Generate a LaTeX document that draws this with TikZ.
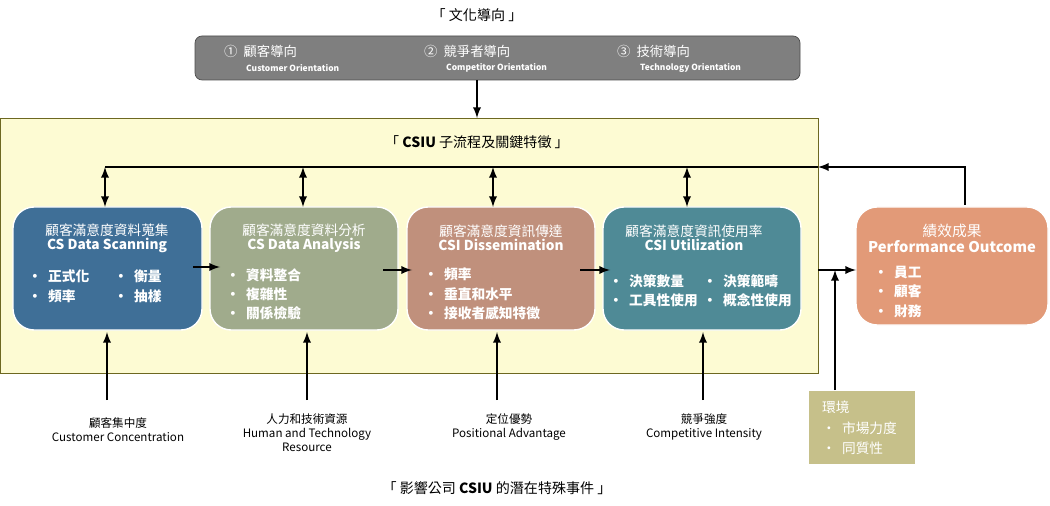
\documentclass[tikz,border=0pt]{standalone}
\usepackage{fontspec}
\setmainfont{Noto Sans CJK TC}
\usepackage{tikz}
\usetikzlibrary{positioning}
\definecolor{culturegray}{HTML}{7F7F7F}
\definecolor{csiuyellow}{HTML}{FDFBD3}
\definecolor{scanblue}{HTML}{3F6F97}
\definecolor{analysisgreen}{HTML}{A0AB8C}
\definecolor{dissembrown}{HTML}{C0907C}
\definecolor{utilteal}{HTML}{4F8A96}
\definecolor{perforange}{HTML}{E29A78}
\definecolor{envolive}{HTML}{C6C08A}
\tikzset{
  stage/.style={draw=white, thick, rounded corners=12pt, anchor=north west},
  head/.style={text=white, font=\fontsize{7.8}{9}\selectfont, align=center},
  item/.style={text=white, font=\bfseries\fontsize{7.8}{11}\selectfont, align=left, anchor=north west},
  lab/.style={font=\fontsize{6.6}{8}\selectfont, align=center},
  flow/.style={line width=1.1pt, -latex},
  both/.style={line width=1.1pt, latex-latex},
}
\begin{document}
\begin{tikzpicture}[x=0.02cm, y=-0.02cm]
        \useasboundingbox (0,0) rectangle (1050,506);
        % culture
        \node[lab, font=\fontsize{8}{9}\selectfont] (culttitle) at (477,15) {「 文化導向 」};
        \draw [rounded corners=4pt, fill=culturegray, draw=gray!60!black] (195,36) rectangle (800,80);
        \node[text=white, font=\fontsize{7.6}{9}\selectfont, anchor=west] (c1) at (218,51) {①\ \ 顧客導向};
        \node[text=white, font=\bfseries\fontsize{4.8}{5}\selectfont, anchor=west] (c1e) at (240,68) {Customer Orientation};
        \node[text=white, font=\fontsize{7.6}{9}\selectfont, anchor=west] (c2) at (418,51) {②\ \ 競爭者導向};
        \node[text=white, font=\bfseries\fontsize{4.8}{5}\selectfont, anchor=west] (c2e) at (440,68) {Competitor Orientation};
        \node[text=white, font=\fontsize{7.6}{9}\selectfont, anchor=west] (c3) at (611,51) {③\ \ 技術導向};
        \node[text=white, font=\bfseries\fontsize{4.8}{5}\selectfont, anchor=west] (c3e) at (634,68) {Technology Orientation};
        \coordinate (cultbot) at (477,80);
        \coordinate (csiutop) at (477,118);
        % CSIU area
        \draw [fill=csiuyellow, draw=olive!70!black] (0,118) rectangle (818,373);
        \draw [flow] (cultbot) -- (csiutop);
        \node[lab, font=\fontsize{8}{9}\selectfont] (csiutitle) at (477,142) {「 \textbf{CSIU} 子流程及關鍵特徵 」};
        % stages
        \draw [stage, fill=scanblue]     (13,207)  rectangle (202,330);
        \draw [stage, fill=analysisgreen](210,207) rectangle (398,330);
        \draw [stage, fill=dissembrown]  (407,207) rectangle (595,330);
        \draw [stage, fill=utilteal]     (603,207) rectangle (801,330);
        \draw [stage, fill=perforange]   (856,207) rectangle (1048,325);
        \node[head] (scan) at (107,238) {顧客滿意度資料蒐集\\[-1pt]\textbf{CS Data Scanning}};
        \node[head] (anal) at (304,238) {顧客滿意度資料分析\\[-1pt]\textbf{CS Data Analysis}};
        \node[head] (diss) at (501,238) {顧客滿意度資訊傳達\\[-1pt]\textbf{CSI Dissemination}};
        \node[head] (util) at (694,238) {顧客滿意度資訊使用率\\[-1pt]\textbf{CSI Utilization}};
        \node[head, font=\fontsize{8.4}{10}\selectfont] (perf) at (952,238) {績效成果\\[-1pt]\textbf{Performance Outcome}};
        \node[item] (scanA) at (22,264)  {•\ \ 正式化\\•\ \ 頻率};
        \node[item] (scanB) at (108,264) {•\ \ 衡量\\•\ \ 抽樣};
        \node[item] (analA) at (220,262) {•\ \ 資料整合\\•\ \ 複雜性\\•\ \ 關係檢驗};
        \node[item] (dissA) at (418,262) {•\ \ 頻率\\•\ \ 垂直和水平\\•\ \ 接收者感知特徵};
        \node[item] (utilA) at (603,268) {•\ \ 決策數量\\•\ \ 工具性使用};
        \node[item] (utilB) at (697,268) {•\ \ 決策範疇\\•\ \ 概念性使用};
        \node[item] (perfA) at (868,260) {•\ \ 員工\\•\ \ 顧客\\•\ \ 財務};
        % flow between stages
        \coordinate (s1r) at (193,267); \coordinate (s2l) at (220,267);
        \coordinate (s2r) at (383,270); \coordinate (s3l) at (412,270);
        \coordinate (s3r) at (580,270); \coordinate (s4l) at (610,270);
        \coordinate (s4r) at (818,270); \coordinate (s5l) at (856,270);
        \draw [flow] (s1r) -- (s2l);
        \draw [flow] (s2r) -- (s3l);
        \draw [flow] (s3r) -- (s4l);
        \draw [flow] (s4r) -- (s5l);
        % feedback
        \coordinate (fbstart) at (965,205);
        \coordinate (fbcorner) at (965,167);
        \coordinate (fbend) at (818,167);
        \draw [flow] (fbstart) -- (fbcorner) -- (fbend);
        \draw [line width=1.1pt] (fbend) -- (105,167);
        \foreach \x in {105,303,493,687}
          \draw [both] (\x,167) -- (\x,207);
        % events
        \foreach \x in {107,307,497,703}
          \draw [flow] (\x,400) -- (\x,332);
        \node[lab] (ev1) at (118,430) {顧客集中度\\Customer Concentration};
        \node[lab] (ev2) at (307,433) {人力和技術資源\\Human and Technology\\Resource};
        \node[lab] (ev3) at (509,427) {定位優勢\\Positional Advantage};
        \node[lab] (ev4) at (704,427) {競爭強度\\Competitive Intensity};
        % environment
        \draw [fill=envolive, draw=white, thick] (808,390) rectangle (916,465);
        \node[item, font=\fontsize{7.8}{11}\selectfont] (env) at (816,395) {環境\\[1pt]•\ \ 市場力度\\•\ \ 同質性};
        \coordinate (envtop) at (835,390);
        \coordinate (envhit) at (835,270);
        \draw [flow] (envtop) -- (envhit);
        \node[lab, font=\fontsize{8}{9}\selectfont] (evtitle) at (497,488) {「 影響公司 \textbf{CSIU} 的潛在特殊事件 」};
\end{tikzpicture}
\end{document}
